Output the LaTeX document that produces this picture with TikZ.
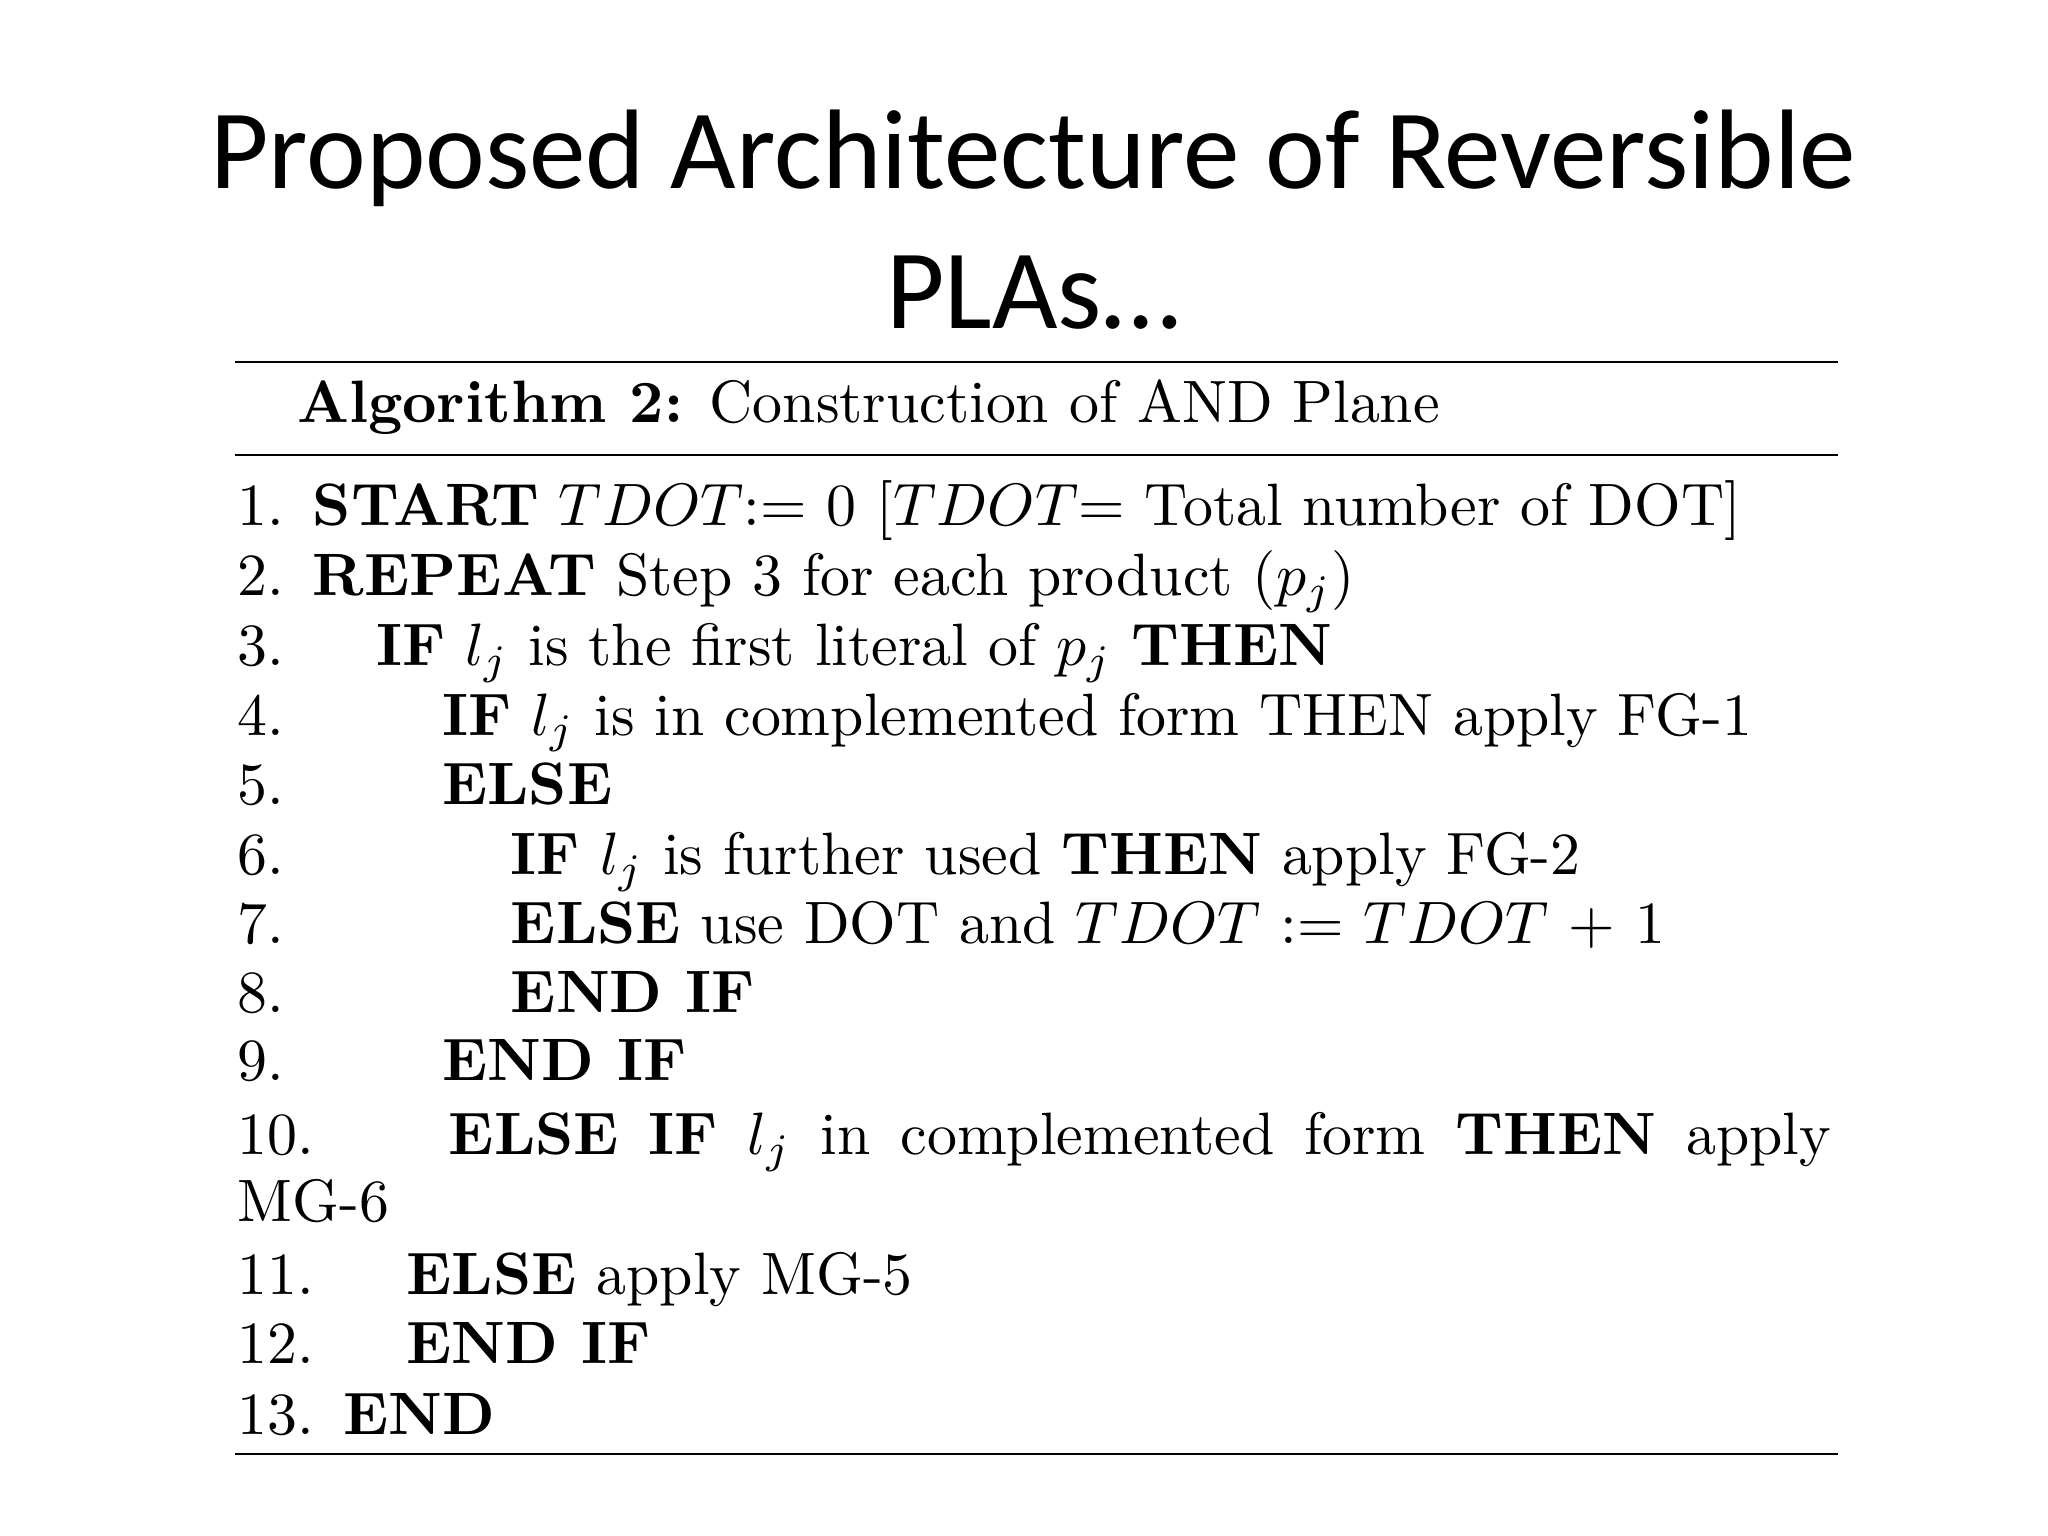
\documentclass[tikz,border=0pt]{standalone}
\usepackage{graphicx}
\usepackage{fontspec}
\newfontfamily\titlefont{Carlito}
\newcommand\SL[1]{\scalebox{6.45}{\fontsize{10}{12}\selectfont #1}}
\begin{document}
\begin{tikzpicture}[x=0.05cm,y=-0.05cm,
  ln/.style={anchor=base west,inner sep=0pt},
  tt/.style={anchor=base,inner sep=0pt,font=\titlefont\fontsize{122}{130}\selectfont}]
\useasboundingbox[fill=white] (0,0) rectangle (1552,1164);
\node[tt] (t1) at (783,143) {Proposed Architecture of Reversible};
\node[tt] (t2) at (783,249) {PLAs…};
\draw[line width=2.2pt] (178,274) -- (1393,274);
\draw[line width=2.2pt] (178,345) -- (1393,345);
\draw[line width=2.2pt] (178,1102) -- (1393,1102);
\node[ln] (h) at (225,320) {\SL{\textbf{Algorithm 2:} Construction of AND Plane}};
\def\num#1#2{\node[ln] (n#1) at (180,#2) {\SL{#1.}};}
\num{1}{398}\num{2}{451}\num{3}{504}\num{4}{557}\num{5}{610}\num{6}{663}\num{7}{715}
\num{8}{767}\num{9}{819}\num{10}{875}\num{11}{981}\num{12}{1033}\num{13}{1087}
\node[ln] (l1) at (237,398) {\SL{\textbf{START} $TDOT$:= 0 [$TDOT$= Total number of DOT]}};
\node[ln] (l2) at (237,451) {\SL{\textbf{REPEAT} Step 3 for each product ($p_j$)}};
\node[ln] (l3) at (285,504) {\SL{\textbf{IF} $l_j$ is the first literal of $p_j$ \textbf{THEN}}};
\node[ln] (l4) at (335,557) {\SL{\textbf{IF} $l_j$ is in complemented form THEN apply FG-1}};
\node[ln] (l5) at (335,610) {\SL{\textbf{ELSE}}};
\node[ln] (l6) at (387,663) {\SL{\textbf{IF} $l_j$ is further used \textbf{THEN} apply FG-2}};
\node[ln] (l7) at (387,715) {\SL{\textbf{ELSE} use DOT and $TDOT$ := $TDOT$ + 1}};
\node[ln] (l8) at (387,767) {\SL{\textbf{END IF}}};
\node[ln] (l9) at (335,819) {\SL{\textbf{END IF}}};
\node[ln] (l10) at (340,875) {\SL{\hbox to 231pt{\textbf{ELSE}\hfill\textbf{IF}\hfill$l_j$\hfill in\hfill complemented\hfill form\hfill\textbf{THEN}\hfill apply}}};
\node[ln] (l10b) at (180,926) {\SL{MG-6}};
\node[ln] (l11) at (308,981) {\SL{\textbf{ELSE} apply MG-5}};
\node[ln] (l12) at (308,1033) {\SL{\textbf{END IF}}};
\node[ln] (l13) at (260,1087) {\SL{\textbf{END}}};
\end{tikzpicture}
\end{document}
